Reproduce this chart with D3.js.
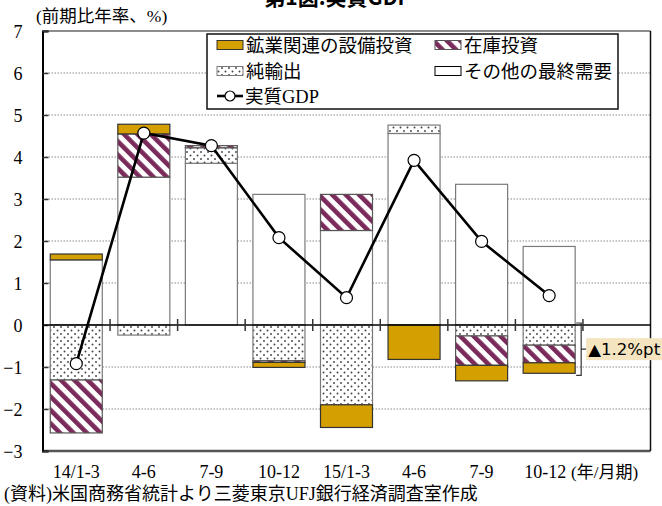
<!DOCTYPE html>
<html><head><meta charset="utf-8">
<script src="https://cdn.jsdelivr.net/npm/d3@7"></script>
<style>body{margin:0;background:#fff}svg{display:block}</style>
</head><body><svg id="c" width="662" height="506"></svg>
<script>
const categories = ["14/1-3","4-6","7-9","10-12","15/1-3","4-6","7-9","10-12"];
const otherDemand = [1.55, 3.52, 3.85, 3.11, 2.25, 4.56, 3.35, 1.87];
const netExports  = [-1.31, -0.24, 0.37, -0.85, -1.90, 0.20, -0.26, -0.48];
const inventory   = [-1.26, 1.03, 0.05, -0.04, 0.86, 0.00, -0.70, -0.42];
const mining      = [0.14, 0.23, 0.00, -0.12, -0.54, -0.82, -0.37, -0.25];
const gdp         = [-0.92, 4.57, 4.27, 2.08, 0.65, 3.92, 1.99, 0.70];
const yTicks = [-3,-2,-1,0,1,2,3,4,5,6,7];
const seriesKeys = ["other","net","inv","mining"];
const legendLabels = {mining:"鉱業関連の設備投資", inv:"在庫投資", net:"純輸出", other:"その他の最終需要", gdp:"実質GDP"};
const annotationText = "▲1.2%pt";

const svg = d3.select("#c");
const L = 42.5, R = 650.5, T = 31, B = 451;
const serif = "'Liberation Serif','Noto Sans CJK JP',serif";
const jp = "'Liberation Serif','Noto Sans CJK JP',serif";

const x = d3.scaleBand().domain([...categories.map((c,i)=>i), 8]).range([L,R]).paddingInner(0.23).paddingOuter(0.115);
const y = d3.scaleLinear().domain([-3,7]).range([B,T]);

// patterns
const defs = svg.append("defs");
const dots = defs.append("pattern").attr("id","dots").attr("patternUnits","userSpaceOnUse").attr("width",7).attr("height",7);
dots.append("rect").attr("width",7).attr("height",7).attr("fill","#fff");
dots.append("circle").attr("cx",1.5).attr("cy",1.5).attr("r",0.95).attr("fill","#444");
dots.append("circle").attr("cx",5).attr("cy",5).attr("r",0.95).attr("fill","#444");
const stripes = defs.append("pattern").attr("id","stripes").attr("patternUnits","userSpaceOnUse").attr("width",9.5).attr("height",9.5).attr("patternTransform","rotate(-45)");
stripes.append("rect").attr("width",9.5).attr("height",9.5).attr("fill","#fff");
stripes.append("rect").attr("width",4.6).attr("height",9.5).attr("fill","#7b2b5b");

const fills = {other:"#fff", net:"url(#dots)", inv:"url(#stripes)", mining:"#d49f00"};
const strokes = {other:"#7a7a7a", net:"#7a7a7a", inv:"#555", mining:"#333"};

// title (clipped at top, as in the reference)
svg.append("text").attr("x",338).attr("y",5).attr("text-anchor","middle")
  .attr("font-family","'Noto Sans CJK JP',sans-serif").attr("font-weight","bold").attr("font-size",21).text("第1図:実質GDP");

// gridlines
svg.append("g").selectAll("line").data(yTicks.filter(v=>v!==0 && v!==-3 && v!==7)).join("line")
  .attr("x1",L).attr("x2",R).attr("y1",d=>y(d)).attr("y2",d=>y(d))
  .attr("stroke","#888").attr("stroke-width",1).attr("stroke-dasharray","1.5,1.5");

// frame
svg.append("line").attr("x1",L).attr("x2",R).attr("y1",T).attr("y2",T).attr("stroke","#666").attr("stroke-width",1.5);
svg.append("line").attr("x1",L).attr("x2",R).attr("y1",B).attr("y2",B).attr("stroke","#555").attr("stroke-width",2.5);
svg.append("line").attr("x1",R).attr("x2",R).attr("y1",T).attr("y2",B).attr("stroke","#111").attr("stroke-width",1.5);

// y axis
const yAxis = d3.axisLeft(y).tickValues(yTicks).tickSize(-6).tickPadding(20).tickFormat(d3.format("d"));
const ya = svg.append("g").attr("transform",`translate(${L},0)`).call(yAxis);
ya.select(".domain").attr("stroke","#000").attr("stroke-width",2);
ya.selectAll(".tick line").attr("stroke","#333").attr("stroke-width",1.5);
ya.selectAll(".tick text").attr("font-family",serif).attr("font-size",18).attr("fill","#000").attr("dy","0.35em");

// stacked bars
const rows = categories.map((c,i)=>({i, other:otherDemand[i], net:netExports[i], inv:inventory[i], mining:mining[i]}));
const stack = d3.stack().keys(seriesKeys).offset(d3.stackOffsetDiverging)(rows);
const bw = x.bandwidth();
svg.append("g").selectAll("g").data(stack).join("g")
  .attr("fill",d=>fills[d.key]).attr("stroke",d=>strokes[d.key]).attr("stroke-width",1.2)
  .selectAll("rect").data(d=>d.filter(p=>Math.abs(p[1]-p[0])>1e-9)).join("rect")
  .attr("x",d=>x(d.data.i)).attr("width",bw)
  .attr("y",d=>y(Math.max(d[0],d[1]))).attr("height",d=>Math.abs(y(d[0])-y(d[1])));

// zero line
svg.append("line").attr("x1",L).attr("x2",R).attr("y1",y(0)).attr("y2",y(0)).attr("stroke","#000").attr("stroke-width",1.5);
// category boundary ticks
svg.append("g").selectAll("line").data(categories.map((c,i)=>i)).join("line")
  .attr("x1",i=>x(i)+x.step()*(1-0.115)).attr("x2",i=>x(i)+x.step()*(1-0.115))
  .attr("y1",y(0)-6).attr("y2",y(0)+6).attr("stroke","#333").attr("stroke-width",1.5);

// GDP line
const line = d3.line().x((d,i)=>x(i)+bw/2).y(d=>y(d));
svg.append("path").datum(gdp).attr("d",line).attr("fill","none").attr("stroke","#000").attr("stroke-width",2.6);
svg.append("g").selectAll("circle").data(gdp).join("circle")
  .attr("cx",(d,i)=>x(i)+bw/2).attr("cy",d=>y(d)).attr("r",6)
  .attr("fill","#fff").attr("stroke","#000").attr("stroke-width",1.2);

// x labels
svg.append("g").selectAll("text").data(categories).join("text")
  .attr("x",(d,i)=>x(i)+bw/2 - (i===7?4:0)).attr("y",478).attr("text-anchor","middle")
  .attr("font-family",serif).attr("font-size",18).text(d=>d);
svg.append("text").attr("x",571).attr("y",478).attr("font-family",jp).attr("font-size",17).text("(年/月期)");

// axis title and footnote
svg.append("text").attr("x",36).attr("y",22).attr("font-family",jp).attr("font-size",17.5).text("(前期比年率、%)");
svg.append("text").attr("x",4).attr("y",500).attr("font-family",jp).attr("font-size",18).text("(資料)米国商務省統計より三菱東京UFJ銀行経済調査室作成");

// legend
const lg = svg.append("g");
lg.append("rect").attr("x",207).attr("y",34).attr("width",411).attr("height",75).attr("fill","#fff").attr("stroke","#111").attr("stroke-width",1.5);
const legItems = [
  {k:"mining", cx:217, cy:45},
  {k:"inv", cx:435, cy:45},
  {k:"net", cx:217, cy:71},
  {k:"other", cx:435, cy:71}
];
legItems.forEach(it=>{
  lg.append("rect").attr("x",it.cx).attr("y",it.cy-4.5).attr("width",26).attr("height",9)
    .attr("fill",fills[it.k]).attr("stroke",it.k==="other"?"#000":strokes[it.k]).attr("stroke-width",1);
  lg.append("text").attr("x",it.cx+29).attr("y",it.cy).attr("dy","0.36em").attr("font-family",jp).attr("font-size",18.5).text(legendLabels[it.k]);
});
lg.append("line").attr("x1",217).attr("x2",243).attr("y1",96).attr("y2",96).attr("stroke","#000").attr("stroke-width",2.6);
lg.append("circle").attr("cx",230).attr("cy",96).attr("r",5).attr("fill","#fff").attr("stroke","#000").attr("stroke-width",1.2);
lg.append("text").attr("x",245).attr("y",96).attr("dy","0.36em").attr("font-family",jp).attr("font-size",18.5).text(legendLabels.gdp);

// annotation bracket for last quarter negatives
const lastNeg = netExports[7]+inventory[7]+mining[7];
const bx = x(7)+bw+6;
svg.append("path").attr("d",`M${bx-5},${y(0)-2}H${bx}V${y(lastNeg)+2}H${bx-5}M${bx},${y(lastNeg/2)}H${bx+5}`)
  .attr("fill","none").attr("stroke","#333").attr("stroke-width",1.2);
svg.append("rect").attr("x",bx+5).attr("y",y(lastNeg/2)-11).attr("width",80).attr("height",22).attr("fill","#f4e4bf");
svg.append("text").attr("x",bx+7).attr("y",y(lastNeg/2)).attr("dy","0.36em").attr("font-family","'DejaVu Sans','Liberation Sans',sans-serif").attr("font-size",16).attr("textLength",72).attr("lengthAdjust","spacingAndGlyphs").text(annotationText);
</script></body></html>
